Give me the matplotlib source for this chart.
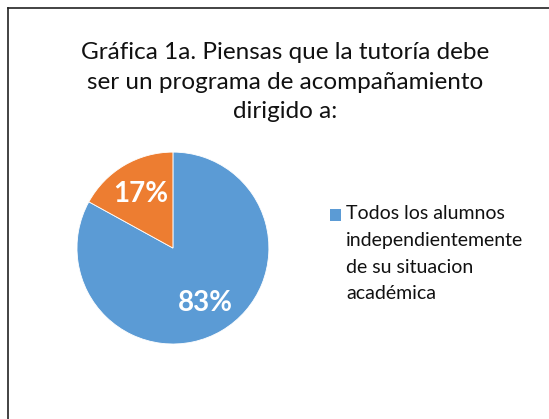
import matplotlib.pyplot as plt
from matplotlib.lines import Line2D
from matplotlib.patches import Rectangle

# Data
values = [83, 17]
labels = ['Todos los alumnos\nindependientemente\nde su situacion\nacadémica', '']
colors = ['#5B9BD5', '#ED7D31']
title = 'Gráfica 1a. Piensas que la tutoría debe\nser un programa de acompañamiento\ndirigido a:'

plt.rcParams['font.family'] = ['Lato', 'DejaVu Sans']

W, H = 549, 419
fig = plt.figure(figsize=(W / 100, H / 100), dpi=100)

# chart border (left and top edges are visible)
fig.add_artist(Line2D([0.0137, 0.0137], [0, 0.982], color='#222222', lw=1.2))
fig.add_artist(Line2D([0.0137, 1.0], [0.982, 0.982], color='#222222', lw=1.2))

fig.text(0.519, 1 - 82 / H, title, ha='center', va='center',
         fontsize=17.5, linespacing=1.52, color='#111111')

ax = fig.add_axes([0.140, 0.179, 0.350, 0.458])
wedges, texts, autotexts = ax.pie(
    values, colors=colors, startangle=90, counterclock=False,
    autopct='%1.0f%%', pctdistance=0.66,
    wedgeprops=dict(edgecolor='white', linewidth=0.6),
    textprops=dict(color='white', fontsize=20, fontweight='bold'))
ax.set_xlim(-1, 1)
ax.set_ylim(-1, 1)
ax.set_aspect('equal')

# legend: only the first category is shown in the original
fig.add_artist(Rectangle((330 / W, 1 - 221 / H), 11 / W, 12 / H,
                         transform=fig.transFigure, facecolor=colors[0],
                         edgecolor='none'))
fig.text(346 / W, 1 - 205 / H, labels[0], ha='left', va='top',
         fontsize=14, linespacing=1.7, color='#111111')

plt.savefig('out.png', dpi=100)
